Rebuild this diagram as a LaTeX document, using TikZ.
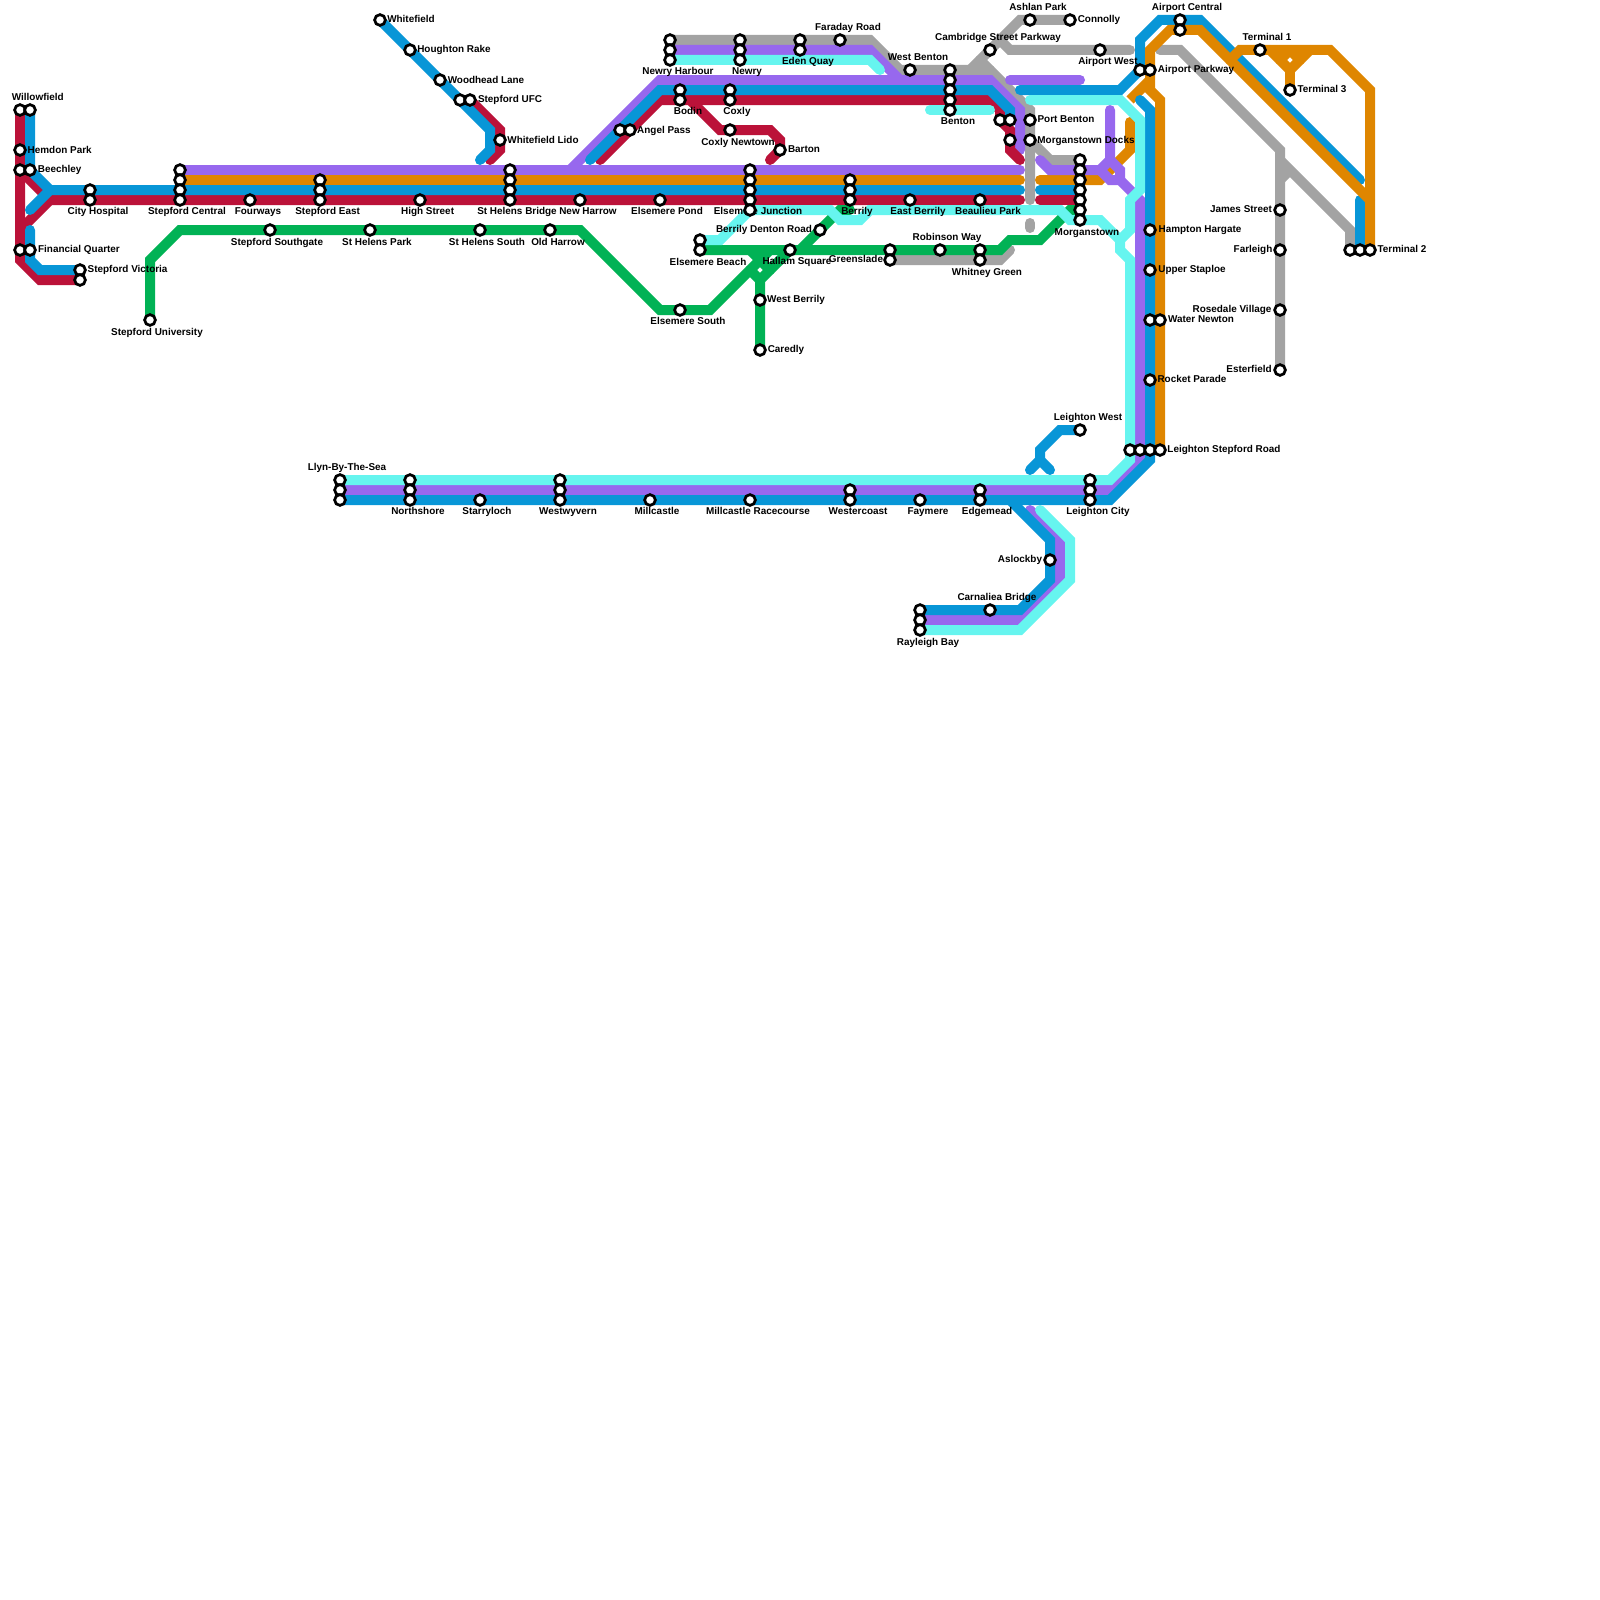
\documentclass[tikz,border=0pt]{standalone}
\usepackage{fontspec}
\setmainfont{Liberation Sans}
\definecolor{lnGrey}{HTML}{A3A3A3}
\definecolor{lnPurple}{HTML}{9768EE}
\definecolor{lnOrange}{HTML}{DF8600}
\definecolor{lnBlue}{HTML}{0896D7}
\definecolor{lnRed}{HTML}{BB1239}
\definecolor{lnGreen}{HTML}{01B255}
\definecolor{lnCyan}{HTML}{66F5EF}
\pgfdeclarelayer{lines}
\pgfdeclarelayer{labels}
\pgfsetlayers{lines,labels,main}
\tikzset{
  route/.style={line width=4mm,line cap=round,line join=miter},
  grey/.style={route,draw=lnGrey},
  purple/.style={route,draw=lnPurple},
  orange/.style={route,draw=lnOrange},
  blue/.style={route,draw=lnBlue},
  red/.style={route,draw=lnRed},
  green/.style={route,draw=lnGreen},
  cyan/.style={route,draw=lnCyan},
  stn/.style={circle,draw=black,fill=white,line width=1.1mm,minimum size=4.3mm,inner sep=0pt},
  lbl/.style={inner sep=0pt,anchor=center,text height=8pt,text depth=0pt,text=black,
    font=\fontsize{11.3}{12}\selectfont\bfseries},
}
\begin{document}
\begin{tikzpicture}[x=4mm,y=-4mm]
  \path[use as bounding box] (0,0) rectangle (160,160);
  % stations, west to east
  \node[stn] (wilA) at (2,11) {};
  \node[stn] (wilB) at (3,11) {};
  \node[stn] (hem) at (2,15) {};
  \node[stn] (becA) at (2,17) {};
  \node[stn] (becB) at (3,17) {};
  \node[stn] (finA) at (2,25) {};
  \node[stn] (finB) at (3,25) {};
  \node[stn] (stvA) at (8,27) {};
  \node[stn] (stvB) at (8,28) {};
  \node[stn] (cihA) at (9,19) {};
  \node[stn] (cihB) at (9,20) {};
  \node[stn] (stu) at (15,32) {};
  \node[stn] (stcA) at (18,17) {};
  \node[stn] (stcB) at (18,18) {};
  \node[stn] (stcC) at (18,19) {};
  \node[stn] (stcD) at (18,20) {};
  \node[stn] (fou) at (25,20) {};
  \node[stn] (sts) at (27,23) {};
  \node[stn] (steA) at (32,18) {};
  \node[stn] (steB) at (32,19) {};
  \node[stn] (steC) at (32,20) {};
  \node[stn] (llyA) at (34,48) {};
  \node[stn] (llyB) at (34,49) {};
  \node[stn] (llyC) at (34,50) {};
  \node[stn] (shp) at (37,23) {};
  \node[stn] (whf) at (38,2) {};
  \node[stn] (hou) at (41,5) {};
  \node[stn] (norA) at (41,48) {};
  \node[stn] (norB) at (41,49) {};
  \node[stn] (norC) at (41,50) {};
  \node[stn] (his) at (42,20) {};
  \node[stn] (woo) at (44,8) {};
  \node[stn] (ufcA) at (46,10) {};
  \node[stn] (ufcB) at (47,10) {};
  \node[stn] (shs) at (48,23) {};
  \node[stn] (sta) at (48,50) {};
  \node[stn] (lido) at (50,14) {};
  \node[stn] (shbA) at (51,17) {};
  \node[stn] (shbB) at (51,18) {};
  \node[stn] (shbC) at (51,19) {};
  \node[stn] (shbD) at (51,20) {};
  \node[stn] (olh) at (55,23) {};
  \node[stn] (wesA) at (56,48) {};
  \node[stn] (wesB) at (56,49) {};
  \node[stn] (wesC) at (56,50) {};
  \node[stn] (neh) at (58,20) {};
  \node[stn] (angA) at (62,13) {};
  \node[stn] (angB) at (63,13) {};
  \node[stn] (mil) at (65,50) {};
  \node[stn] (elp) at (66,20) {};
  \node[stn] (nhaA) at (67,4) {};
  \node[stn] (nhaB) at (67,5) {};
  \node[stn] (nhaC) at (67,6) {};
  \node[stn] (bodA) at (68,9) {};
  \node[stn] (bodB) at (68,10) {};
  \node[stn] (els) at (68,31) {};
  \node[stn] (elbA) at (70,24) {};
  \node[stn] (elbB) at (70,25) {};
  \node[stn] (coxA) at (73,9) {};
  \node[stn] (coxB) at (73,10) {};
  \node[stn] (con) at (73,13) {};
  \node[stn] (newA) at (74,4) {};
  \node[stn] (newB) at (74,5) {};
  \node[stn] (newC) at (74,6) {};
  \node[stn] (eljA) at (75,17) {};
  \node[stn] (eljB) at (75,18) {};
  \node[stn] (eljC) at (75,19) {};
  \node[stn] (eljD) at (75,20) {};
  \node[stn] (eljE) at (75,21) {};
  \node[stn] (mir) at (75,50) {};
  \node[stn] (wbe) at (76,30) {};
  \node[stn] (car) at (76,35) {};
  \node[stn] (bar) at (78,15) {};
  \node[stn] (hal) at (79,25) {};
  \node[stn] (edqA) at (80,4) {};
  \node[stn] (edqB) at (80,5) {};
  \node[stn] (bdr) at (82,23) {};
  \node[stn] (far) at (84,4) {};
  \node[stn] (berA) at (85,18) {};
  \node[stn] (berB) at (85,19) {};
  \node[stn] (berC) at (85,20) {};
  \node[stn] (wcoA) at (85,49) {};
  \node[stn] (wcoB) at (85,50) {};
  \node[stn] (greA) at (89,25) {};
  \node[stn] (greB) at (89,26) {};
  \node[stn] (wbn) at (91,7) {};
  \node[stn] (ebe) at (91,20) {};
  \node[stn] (fay) at (92,50) {};
  \node[stn] (rayA) at (92,61) {};
  \node[stn] (rayB) at (92,62) {};
  \node[stn] (rayC) at (92,63) {};
  \node[stn] (rob) at (94,25) {};
  \node[stn] (benA) at (95,7) {};
  \node[stn] (benB) at (95,8) {};
  \node[stn] (benC) at (95,9) {};
  \node[stn] (benD) at (95,10) {};
  \node[stn] (benE) at (95,11) {};
  \node[stn] (bea) at (98,20) {};
  \node[stn] (whgA) at (98,25) {};
  \node[stn] (whgB) at (98,26) {};
  \node[stn] (edgA) at (98,49) {};
  \node[stn] (edgB) at (98,50) {};
  \node[stn] (cam) at (99,5) {};
  \node[stn] (cbr) at (99,61) {};
  \node[stn] (hubA) at (100,12) {};
  \node[stn] (hubB) at (101,12) {};
  \node[stn] (hubC) at (101,14) {};
  \node[stn] (ash) at (103,2) {};
  \node[stn] (pob) at (103,12) {};
  \node[stn] (mdo) at (103,14) {};
  \node[stn] (asl) at (105,56) {};
  \node[stn] (cnl) at (107,2) {};
  \node[stn] (morA) at (108,16) {};
  \node[stn] (morB) at (108,17) {};
  \node[stn] (morC) at (108,18) {};
  \node[stn] (morD) at (108,19) {};
  \node[stn] (morE) at (108,20) {};
  \node[stn] (morF) at (108,21) {};
  \node[stn] (morG) at (108,22) {};
  \node[stn] (lew) at (108,43) {};
  \node[stn] (lecA) at (109,48) {};
  \node[stn] (lecB) at (109,49) {};
  \node[stn] (lecC) at (109,50) {};
  \node[stn] (aiw) at (110,5) {};
  \node[stn] (lsrA) at (113,45) {};
  \node[stn] (lsrB) at (114,45) {};
  \node[stn] (lsrC) at (115,45) {};
  \node[stn] (lsrD) at (116,45) {};
  \node[stn] (apkA) at (114,7) {};
  \node[stn] (apkB) at (115,7) {};
  \node[stn] (hah) at (115,23) {};
  \node[stn] (ups) at (115,27) {};
  \node[stn] (watA) at (115,32) {};
  \node[stn] (watB) at (116,32) {};
  \node[stn] (roc) at (115,38) {};
  \node[stn] (aicA) at (118,2) {};
  \node[stn] (aicB) at (118,3) {};
  \node[stn] (tmA) at (126,5) {};
  \node[stn] (jam) at (128,21) {};
  \node[stn] (fal) at (128,25) {};
  \node[stn] (ros) at (128,31) {};
  \node[stn] (est) at (128,37) {};
  \node[stn] (tmC) at (129,9) {};
  \node[stn] (tmBa) at (135,25) {};
  \node[stn] (tmBb) at (136,25) {};
  \node[stn] (tmBc) at (137,25) {};
  % free ends
  \coordinate (endP) at (102,17);
  \coordinate (endO) at (102,18);
  \coordinate (endB) at (102,19);
  \coordinate (endR) at (102,20);
  \begin{pgfonlayer}{lines}
    % grey
    \draw[grey] (nhaA.center) -- (87,4) -- (90,7) -- (99,7);
    \draw[grey] (97,7) -- (102,2) -- (cnl.center);
    \draw[grey] (100,4) -- (101,5) -- (113,5);
    \draw[grey] (98,6) -- (103,11) -- (103,20);
    \draw[grey] (mdo.center) -- (105,16) -- (morA.center);
    \draw[grey] (103,22.3) -- (103,22.8);
    \draw[grey] (greB.center) -- (100,26) -- (101,25);
    \draw[grey] (116,5) -- (118,5) -- (128,15) -- (est.center);
    \draw[grey] (128,16) -- (135,23) -- (tmBa.center);
    \draw[grey,line cap=butt] (128,18) -- (129,17);
    % blue, the part below the orange
    \draw[blue] (102,9) -- (112,9) -- (apkA.center) -- (114,4) -- (116,2) -- (120,2) -- (136,18);
    \draw[blue] (136,20) -- (tmBb.center);
    % orange
    \draw[orange] (stcB.center) -- (endO);
    \draw[orange] (104,18) -- (110,18) -- (113,15) -- (113,12.2);
    \draw[orange] (lsrD.center) -- (116,10) -- (115,9) -- (115,5) -- (117,3) -- (120,3) -- (137,20);
    \draw[orange,line cap=butt] (115,8) -- (113,10);
    \draw[orange] (123,6) -- (124,5) -- (133,5) -- (137,9) -- (tmBc.center);
    \draw[orange] (127,5) -- (129,7) -- (131,5);
    \draw[orange,line join=bevel] (128,6) -- (129,5) -- (130,6);
    \draw[orange] (129,7) -- (tmC.center);
    % purple
    \draw[purple] (stcA.center) -- (endP);
    \draw[purple] (57,17) -- (66,8) -- (99,8) -- (102,11) -- (102,15);
    \draw[purple] (nhaB.center) -- (87,5) -- (90,8);
    \draw[purple] (101,8) -- (108,8);
    \draw[purple] (104,16) -- (105,17) -- (110,17) -- (111,18) -- (112,18) -- (114,20) -- (114,46) -- (111,49) -- (llyB.center);
    \draw[purple] (111,11) -- (111,16) -- (110,17);
    \draw[purple] (111,16) -- (112,17) -- (112,18);
    \draw[purple] (103,51) -- (106,54) -- (106,58) -- (102,62) -- (rayB.center);
    % red
    \draw[red] (wilA.center) -- (2,26) -- (4,28) -- (stvB.center);
    \draw[red] (becA.center) -- (5,20) -- (endR);
    \draw[red] (2,23) -- (5,20);
    \draw[red] (104,20) -- (morE.center);
    \draw[red] (60,16) -- (66,10) -- (99,10) -- (100,11) -- (hubA.center) -- (101,13) -- (101,15) -- (102,16);
    \draw[red] (69,10) -- (72,13) -- (77,13) -- (78,14) -- (bar.center) -- (77,16);
    \draw[red] (ufcB.center) -- (50,13) -- (50,15) -- (49,16);
    % blue
    \draw[blue] (wilB.center) -- (becB.center) -- (5,19) -- (endB);
    \draw[blue] (3,21) -- (5,19);
    \draw[blue] (3,23) -- (3,26) -- (4,27) -- (stvA.center);
    \draw[blue] (104,19) -- (morD.center);
    \draw[blue] (whf.center) -- (49,13) -- (49,15) -- (48,16);
    \draw[blue] (59,16) -- (66,9) -- (99,9) -- (101,11) -- (hubB.center);
    \draw[blue] (114,10) -- (115,11) -- (115,46) -- (111,50) -- (llyC.center);
    \draw[blue] (101,50) -- (105,54) -- (105,58) -- (102,61) -- (rayA.center);
    \draw[blue] (lew.center) -- (106,43) -- (104,45) -- (104,46) -- (103,47);
    \draw[blue] (104,46) -- (105,47);
    % green
    \draw[green] (stu.center) -- (15,26) -- (18,23) -- (58,23) -- (66,31) -- (71,31) -- (77,25);
    \draw[green] (elbB.center) -- (100,25) -- (101,24) -- (104,24) -- (107,21) -- (morF.center);
    \draw[green] (car.center) -- (76,28) -- (79,25);
    \draw[green] (75,25) -- (77,27);
    \draw[green] (75,27) -- (76,28);
    \draw[green] (85,21) -- (84,21) -- (80,25);
    % cyan
    \draw[cyan] (103,10) -- (112,10) -- (114,12) -- (114,19) -- (113,20) -- (113,23) -- (112,24) -- (112,25) -- (113,26) -- (113,46) -- (111,48) -- (llyA.center);
    \draw[cyan] (elbA.center) -- (72,24) -- (75,21) -- (83,21) -- (84,22) -- (86,22) -- (87,21) -- (106,21) -- (107,22) -- (110,22) -- (112,24);
    \draw[cyan] (nhaC.center) -- (87,6) -- (88,7);
    \draw[cyan] (93,11) -- (99,11);
    \draw[cyan] (104,51) -- (107,54) -- (107,58) -- (102,63) -- (rayC.center);
  \end{pgfonlayer}
  \begin{pgfonlayer}{labels}
    \node[lbl] (lWil) at (3.78,9.69) {Willowfield};
    \node[lbl] (lHem) at (5.97,15) {Hemdon Park};
    \node[lbl] (lBec) at (5.97,16.9) {Beechley};
    \node[lbl] (lFin) at (7.9,24.9) {Financial Quarter};
    \node[lbl] (lStv) at (12.76,26.9) {Stepford Victoria};
    \node[lbl] (lCih) at (9.8,21.1) {City Hospital};
    \node[lbl] (lStc) at (18.7,21.1) {Stepford Central};
    \node[lbl] (lFou) at (25.8,21.1) {Fourways};
    \node[lbl] (lSte) at (32.76,21.1) {Stepford East};
    \node[lbl] (lHis) at (42.76,21.1) {High Street};
    \node[lbl] (lShb) at (51.7,21.1) {St Helens Bridge};
    \node[lbl] (lNeh) at (58.8,21.1) {New Harrow};
    \node[lbl] (lElp) at (66.7,21.1) {Elsemere Pond};
    \node[lbl] (lElj) at (75.8,21.1) {Elsemere Junction};
    \node[lbl] (lBer) at (85.7,21.1) {Berrily};
    \node[lbl] (lEbe) at (91.8,21.1) {East Berrily};
    \node[lbl] (lBea) at (98.8,21.1) {Beaulieu Park};
    \node[lbl] (lSts) at (27.7,24.2) {Stepford Southgate};
    \node[lbl] (lShp) at (37.7,24.2) {St Helens Park};
    \node[lbl] (lShs) at (48.7,24.2) {St Helens South};
    \node[lbl] (lOlh) at (55.8,24.2) {Old Harrow};
    \node[lbl] (lStu) at (15.7,33.2) {Stepford University};
    \node[lbl] (lEls) at (68.8,32.1) {Elsemere South};
    \node[lbl] (lElb) at (70.8,26.2) {Elsemere Beach};
    \node[lbl] (lWbe) at (79.6,29.9) {West Berrily};
    \node[lbl] (lCar) at (78.6,34.9) {Caredly};
    \node[lbl] (lHal) at (79.7,26.1) {Hallam Square};
    \node[lbl] (lGre) at (85.6,25.9) {Greenslade};
    \node[lbl] (lRob) at (94.7,23.7) {Robinson Way};
    \node[lbl] (lWhg) at (98.7,27.2) {Whitney Green};
    \node[lbl] (lBdr) at (76.4,22.9) {Berrily Denton Road};
    \node[lbl] (lMor) at (108.7,23.2) {Morganstown};
    \node[lbl] (lWhf) at (41.1,1.9) {Whitefield};
    \node[lbl] (lHou) at (45.4,4.9) {Houghton Rake};
    \node[lbl] (lWoo) at (48.6,8) {Woodhead Lane};
    \node[lbl] (lUfc) at (51,9.9) {Stepford UFC};
    \node[lbl] (lLid) at (54.3,14) {Whitefield Lido};
    \node[lbl] (lAng) at (66.4,13) {Angel Pass};
    \node[lbl] (lNha) at (67.8,7.1) {Newry Harbour};
    \node[lbl] (lNew) at (74.7,7.1) {Newry};
    \node[lbl] (lEdq) at (80.8,6.1) {Eden Quay};
    \node[lbl] (lFar) at (84.8,2.65) {Faraday Road};
    \node[lbl] (lBod) at (68.8,11.1) {Bodin};
    \node[lbl] (lCox) at (73.7,11.1) {Coxly};
    \node[lbl] (lCon) at (73.8,14.2) {Coxly Newtown};
    \node[lbl] (lBar) at (80.4,14.9) {Barton};
    \node[lbl] (lWbn) at (91.8,5.7) {West Benton};
    \node[lbl] (lBen) at (95.8,12.1) {Benton};
    \node[lbl] (lCam) at (99.8,3.7) {Cambridge Street Parkway};
    \node[lbl] (lAsh) at (103.8,0.7) {Ashlan Park};
    \node[lbl] (lCnl) at (109.9,1.9) {Connolly};
    \node[lbl] (lAiw) at (110.8,6.1) {Airport West};
    \node[lbl] (lApk) at (119.6,6.9) {Airport Parkway};
    \node[lbl] (lAic) at (118.7,0.7) {Airport Central};
    \node[lbl] (lPob) at (106.6,11.9) {Port Benton};
    \node[lbl] (lMdo) at (108.6,14) {Morganstown Docks};
    \node[lbl] (lTmA) at (126.7,3.7) {Terminal 1};
    \node[lbl] (lTmC) at (132.2,8.9) {Terminal 3};
    \node[lbl] (lTmB) at (140.2,24.9) {Terminal 2};
    \node[lbl] (lJam) at (124.1,20.9) {James Street};
    \node[lbl] (lFal) at (125.3,24.9) {Farleigh};
    \node[lbl] (lRos) at (123.2,30.9) {Rosedale Village};
    \node[lbl] (lEst) at (124.9,36.9) {Esterfield};
    \node[lbl] (lHah) at (120,22.9) {Hampton Hargate};
    \node[lbl] (lUps) at (119.2,26.9) {Upper Staploe};
    \node[lbl] (lWat) at (120.1,31.9) {Water Newton};
    \node[lbl] (lRoc) at (119.2,37.9) {Rocket Parade};
    \node[lbl] (lLsr) at (122.4,44.9) {Leighton Stepford Road};
    \node[lbl] (lLew) at (108.8,41.7) {Leighton West};
    \node[lbl] (lLly) at (34.7,46.7) {Llyn-By-The-Sea};
    \node[lbl] (lNor) at (41.8,51.1) {Northshore};
    \node[lbl] (lSta) at (48.7,51.1) {Starryloch};
    \node[lbl] (lWes) at (56.8,51.1) {Westwyvern};
    \node[lbl] (lMil) at (65.7,51.1) {Millcastle};
    \node[lbl] (lMir) at (75.8,51.1) {Millcastle Racecourse};
    \node[lbl] (lWco) at (85.8,51.1) {Westercoast};
    \node[lbl] (lFay) at (92.8,51.1) {Faymere};
    \node[lbl] (lEdg) at (98.7,51.1) {Edgemead};
    \node[lbl] (lLec) at (109.8,51.1) {Leighton City};
    \node[lbl] (lAsl) at (102,55.9) {Aslockby};
    \node[lbl] (lCbr) at (99.7,59.7) {Carnaliea Bridge};
    \node[lbl] (lRay) at (92.8,64.2) {Rayleigh Bay};
  \end{pgfonlayer}
\end{tikzpicture}
\end{document}
